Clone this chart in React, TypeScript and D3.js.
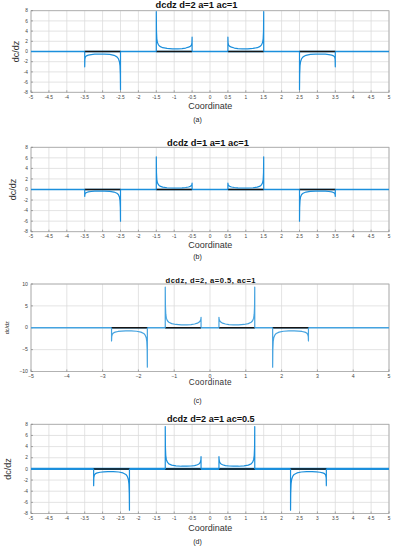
import React from "react";
import * as d3 from "d3";

// fraction along a lobe, measured from its strong (singular) end toward its weak end
const lobeT = [0, 0.005, 0.015, 0.03, 0.06, 0.1, 0.18, 0.3, 0.45, 0.6, 0.72, 0.82, 0.9, 0.95, 0.98, 0.995, 1];

// panel (a) d=2 a=1 ac=1
const aPos = [7.8, 4.0, 2.5, 1.8, 1.3, 1.0, 0.75, 0.6, 0.53, 0.53, 0.58, 0.68, 0.85, 1.0, 1.25, 1.7, 2.8];
const aNeg = [-7.5, -4.5, -2.8, -2.0, -1.4, -1.05, -0.75, -0.58, -0.5, -0.5, -0.53, -0.6, -0.72, -0.85, -1.05, -1.5, -3.0];
// panel (b) d=1 a=1 ac=1
const bPos = [6.2, 3.2, 1.9, 1.3, 0.9, 0.65, 0.45, 0.33, 0.28, 0.28, 0.32, 0.38, 0.48, 0.6, 0.75, 0.95, 1.2];
const bNeg = [-6.0, -3.4, -2.1, -1.4, -0.95, -0.7, -0.48, -0.36, -0.3, -0.3, -0.32, -0.38, -0.46, -0.56, -0.7, -0.95, -1.3];
// panel (c) d=2 a=0.5 ac=1
const cPos = [9.3, 5.0, 3.1, 2.2, 1.6, 1.25, 0.95, 0.75, 0.65, 0.65, 0.72, 0.85, 1.05, 1.3, 1.6, 1.95, 2.4];
const cNeg = [-9.0, -5.0, -3.2, -2.3, -1.7, -1.3, -1.0, -0.8, -0.7, -0.7, -0.75, -0.85, -1.0, -1.2, -1.5, -2.0, -3.0];
// panel (d) d=2 a=1 ac=0.5
const dPos = [7.6, 3.9, 2.4, 1.7, 1.2, 0.9, 0.68, 0.55, 0.48, 0.48, 0.52, 0.6, 0.75, 0.92, 1.2, 1.6, 2.2];
const dNeg = [-7.4, -4.4, -2.7, -1.9, -1.35, -1.0, -0.72, -0.56, -0.48, -0.48, -0.52, -0.6, -0.72, -0.85, -1.1, -1.6, -3.0];

// lobe ends: [strong, weak]
const lobesA = [[-2.5, -3.5, "n"], [-1.5, -0.5, "p"], [1.5, 0.5, "p"], [2.5, 3.5, "n"]];
const lobesC = [[-1.75, -2.75, "n"], [-1.25, -0.25, "p"], [1.25, 0.25, "p"], [1.75, 2.75, "n"]];
const lobesD = [[-2.25, -3.25, "n"], [-1.25, -0.25, "p"], [1.25, 0.25, "p"], [2.25, 3.25, "n"]];

const titles = ["dcdz d=2 a=1 ac=1", "dcdz d=1 a=1 ac=1", "dcdz, d=2, a=0.5, ac=1", "dcdz d=2 a=1 ac=0.5"];
const captions = ["(a)", "(b)", "(c)", "(d)"];

const FONT = "'Liberation Sans', Arial, sans-serif";
const BLUE = "#1b8fdc";

type Lobe = (string | number)[];

interface PanelSpec {
  top: number;
  bottom: number;
  yMax: number;
  yStep: number;
  xStep: number;
  pos: number[];
  neg: number[];
  lobes: Lobe[];
  title: string;
  titleX: number;
  titleY: number;
  titleSize: number;
  tickY: number;
  coordY: number;
  coordSize: number;
  ylabX: number;
  ylabSize: number;
  caption: string;
  capY: number;
  color: string;
  zeroWidth: number;
  minus: boolean;
}

const panels: PanelSpec[] = [
  { top: 10.7, bottom: 92.3, yMax: 8, yStep: 2, xStep: 0.5, pos: aPos, neg: aNeg, lobes: lobesA, title: titles[0], titleX: 196.5, titleY: 8.3, titleSize: 9.3, tickY: 99.2, coordY: 109.2, coordSize: 9, ylabX: 15.7, ylabSize: 9, caption: captions[0], capY: 121.5, color: BLUE, zeroWidth: 1.3, minus: false },
  { top: 147.3, bottom: 231.7, yMax: 8, yStep: 2, xStep: 0.5, pos: bPos, neg: bNeg, lobes: lobesA, title: titles[1], titleX: 208, titleY: 146.3, titleSize: 9.3, tickY: 237.8, coordY: 248.2, coordSize: 9, ylabX: 12.5, ylabSize: 9, caption: captions[1], capY: 259.2, color: BLUE, zeroWidth: 1.3, minus: false },
  { top: 284, bottom: 371.5, yMax: 10, yStep: 5, xStep: 1, pos: cPos, neg: cNeg, lobes: lobesC, title: titles[2], titleX: 210.8, titleY: 282.6, titleSize: 7.6, tickY: 378.2, coordY: 385.2, coordSize: 8.2, ylabX: 7.3, ylabSize: 5.5, caption: captions[2], capY: 402.5, color: "#45a3e0", zeroWidth: 1.3, minus: true },
  { top: 424.3, bottom: 513.5, yMax: 8, yStep: 2, xStep: 0.5, pos: dPos, neg: dNeg, lobes: lobesD, title: titles[3], titleX: 210.8, titleY: 422.2, titleSize: 9.1, tickY: 520.3, coordY: 531, coordSize: 9, ylabX: 7.5, ylabSize: 9, caption: captions[3], capY: 544, color: BLUE, zeroWidth: 2.2, minus: false },
];

const LEFT = 31;
const RIGHT = 389;

function buildSeries(p: PanelSpec): [number, number][] {
  const pts: [number, number][] = [];
  const sorted = [...p.lobes].sort((l1, l2) => Math.min(+l1[0], +l1[1]) - Math.min(+l2[0], +l2[1]));
  sorted.forEach((l) => {
    const strong = +l[0];
    const weak = +l[1];
    const vals = l[2] === "p" ? p.pos : p.neg;
    const lobe: [number, number][] = lobeT.map((t, i) => [strong + t * (weak - strong), vals[i]]);
    lobe.sort((u, v) => u[0] - v[0]);
    pts.push(...lobe);
    pts.push([NaN, NaN]);
  });
  return pts;
}

function Panel({ p }: { p: PanelSpec }) {
  const x = d3.scaleLinear().domain([-5, 5]).range([LEFT, RIGHT]);
  const y = d3.scaleLinear().domain([-p.yMax, p.yMax]).range([p.bottom, p.top]);
  const xTicks = d3.range(-5, 5 + 1e-9, p.xStep).map((v) => Math.round(v * 100) / 100);
  const yTicks = d3.range(-p.yMax, p.yMax + 1e-9, p.yStep);
  const fmt = (v: number) => {
    const s = String(v);
    return p.minus ? s.replace("-", "\u2212") : s;
  };
  const series = buildSeries(p);
  const y0 = y(0);
  // each lobe: vertical jump from the baseline, the curve, and back to the baseline
  const line = d3
    .line<[number, number]>()
    .defined((d) => !isNaN(d[0]))
    .x((d) => x(d[0]))
    .y((d) => y(d[1]));
  const lobePaths = p.lobes.map((l) => {
    const a = Math.min(+l[0], +l[1]);
    const b = Math.max(+l[0], +l[1]);
    const pts = series.filter((d) => d[0] >= a - 1e-9 && d[0] <= b + 1e-9);
    return `M${x(a)},${y0}L` + (line(pts) || "").slice(1) + `L${x(b)},${y0}`;
  });
  const midY = (p.top + p.bottom) / 2;
  const tickFont = p.minus ? 5.2 : 4.8;

  return (
    <g>
      <rect x={LEFT} y={p.top} width={RIGHT - LEFT} height={p.bottom - p.top} fill="#fff" />
      {xTicks.map((v) => (
        <line key={"gx" + v} x1={x(v)} x2={x(v)} y1={p.top} y2={p.bottom} stroke="#dcdcdc" strokeWidth={0.8} />
      ))}
      {yTicks.map((v) => (
        <line key={"gy" + v} x1={LEFT} x2={RIGHT} y1={y(v)} y2={y(v)} stroke="#dcdcdc" strokeWidth={0.8} />
      ))}
      <rect x={LEFT} y={p.top} width={RIGHT - LEFT} height={p.bottom - p.top} fill="none" stroke="#a6a6a6" strokeWidth={0.8} />
      {xTicks.map((v) => (
        <line key={"tx" + v} x1={x(v)} x2={x(v)} y1={p.bottom} y2={p.bottom - 2} stroke="#777" strokeWidth={0.6} />
      ))}
      {yTicks.map((v) => (
        <line key={"ty" + v} x1={LEFT} x2={LEFT + 2} y1={y(v)} y2={y(v)} stroke="#777" strokeWidth={0.6} />
      ))}
      {xTicks.map((v) => (
        <text key={"lx" + v} x={x(v)} y={p.tickY} textAnchor="middle" fontSize={tickFont} fill="#444" fontFamily={FONT}>
          {fmt(v)}
        </text>
      ))}
      {yTicks.map((v) => (
        <text key={"ly" + v} x={LEFT - 3} y={y(v) + 1.7} textAnchor="end" fontSize={tickFont} fill="#444" fontFamily={FONT}>
          {fmt(v)}
        </text>
      ))}
      {/* blue baseline across the whole axis, thicker in panel d */}
      <line x1={x(-5)} x2={x(5)} y1={y0} y2={y0} stroke={p.color} strokeWidth={p.zeroWidth} />
      {p.lobes.map((l, i) => (
        <line key={"k" + i} x1={x(+l[0])} x2={x(+l[1])} y1={y0} y2={y0} stroke="#151515" strokeWidth={1.5} />
      ))}
      {lobePaths.map((d, i) => (
        <path key={"c" + i} d={d} fill="none" stroke={p.color} strokeWidth={1.2} strokeLinejoin="round" />
      ))}
      <text x={p.titleX} y={p.titleY} textAnchor="middle" fontSize={p.titleSize} fontWeight="bold" fontFamily={FONT} fill="#111" letterSpacing={p.minus ? 0.5 : 0}>
        {p.title}
      </text>
      <text x={210.3} y={p.coordY} textAnchor="middle" fontSize={p.coordSize} fontFamily={FONT} fill="#333" letterSpacing={p.minus ? 0.3 : 0}>
        Coordinate
      </text>
      <text
        transform={`translate(${p.ylabX},${midY}) rotate(-90)`}
        y={p.ylabSize * 0.35}
        textAnchor="middle"
        fontSize={p.ylabSize}
        fontFamily={FONT}
        fill="#333"
      >
        dc/dz
      </text>
      <text x={197.5} y={p.capY} textAnchor="middle" fontSize={7} fontFamily={FONT} fill="#222">
        {p.caption}
      </text>
    </g>
  );
}

export default function App() {
  return (
    <svg width={393} height={550} style={{ position: "absolute", left: 0, top: 0, background: "#fff" }}>
      <rect width={393} height={550} fill="#fff" />
      {panels.map((p, i) => (
        <Panel key={i} p={p} />
      ))}
    </svg>
  );
}
